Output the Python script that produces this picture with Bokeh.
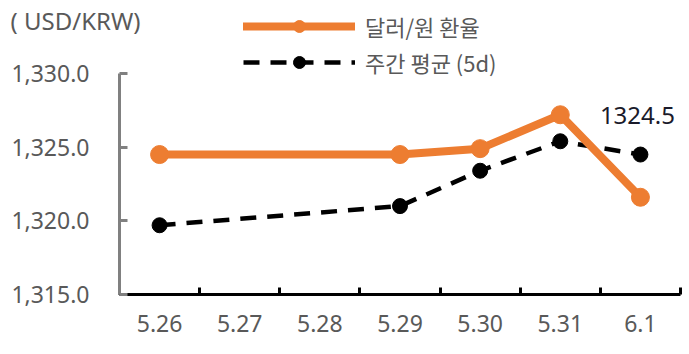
from bokeh.plotting import figure
from bokeh.models import (Range1d, LinearAxis, FixedTicker, NumeralTickFormatter,
                          Legend, LegendItem)
from bokeh.core.properties import value
from bokeh.embed import file_html
from bokeh.resources import INLINE

categories = ["5.26", "5.27", "5.28", "5.29", "5.30", "5.31", "6.1"]
obs_dates = ["5.26", "5.29", "5.30", "5.31", "6.1"]
usdkrw = [1324.5, 1324.5, 1324.9, 1327.2, 1321.6]
weekly_avg = [1319.7, 1321.0, 1323.4, 1325.4, 1324.5]
y_ticks = [1315, 1320, 1325, 1330]
unit_label = "( USD/KRW)"
series_names = ["달러/원 환율", "주간 평균 (5d)"]

ORANGE = "#ED7D31"
GREY = "#595959"
FONT = "Noto Sans"

# categorical positions: centre of each category slot
xpos = [categories.index(d) + 0.5 for d in obs_dates]

p = figure(width=689, height=354, x_range=Range1d(0, len(categories)),
           y_range=Range1d(1315, 1334.955),
           output_backend="svg", toolbar_location=None,
           x_axis_location=None, y_axis_location=None,
           min_border_left=119, min_border_right=9,
           min_border_top=0, min_border_bottom=60)
p.outline_line_color = None
p.grid.visible = False
p.background_fill_color = "white"
p.border_fill_color = "white"

# y axis
yax = LinearAxis(ticker=FixedTicker(ticks=y_ticks),
                 formatter=NumeralTickFormatter(format="0,0.0"),
                 bounds=(y_ticks[0], y_ticks[-1]))
yax.axis_line_color = "#808080"
yax.axis_line_width = 3
yax.major_tick_line_color = "#808080"
yax.major_tick_line_width = 3
yax.major_tick_in = 8
yax.major_tick_out = 0
yax.minor_tick_line_color = None
yax.major_label_standoff = 30
yax.major_label_text_font = FONT
yax.major_label_text_font_size = "23px"
yax.major_label_text_color = GREY
p.add_layout(yax, "left")

# unit caption: single label of an invisible outer left axis, pulled right
unit_pos = 1333.6
uax = LinearAxis(ticker=FixedTicker(ticks=[unit_pos], minor_ticks=[]),
                 bounds=(unit_pos - 0.3, unit_pos + 0.3),
                 major_label_overrides={unit_pos: unit_label})
uax.axis_line_color = None
uax.major_tick_line_color = None
uax.minor_tick_line_color = None
uax.major_tick_in = 0
uax.major_tick_out = 0
uax.major_label_standoff = -132
uax.major_label_text_font = FONT
uax.major_label_text_font_size = "24px"
uax.major_label_text_color = GREY
p.add_layout(uax, "left")

# x axis: labels at category centres, ticks at category boundaries
centres = [i + 0.5 for i in range(len(categories))]
bounds = list(range(len(categories) + 1))
xax = LinearAxis(ticker=FixedTicker(ticks=centres, minor_ticks=bounds),
                 major_label_overrides={c: lab for c, lab in zip(centres, categories)})
xax.axis_line_color = "black"
xax.axis_line_width = 3
xax.major_tick_line_color = None
xax.minor_tick_line_color = "black"
xax.minor_tick_line_width = 3
xax.minor_tick_in = 7
xax.minor_tick_out = 0
xax.major_label_standoff = 14
xax.major_label_text_font = FONT
xax.major_label_text_font_size = "23px"
xax.major_label_text_color = GREY
p.add_layout(xax, "below")

# series
avg_line = p.line(xpos, weekly_avg, line_color="black", line_width=4.5,
                  line_dash="16 11")
avg_pts = p.scatter(xpos, weekly_avg, size=15, fill_color="black",
                    line_color="black")
fx_line = p.line(xpos, usdkrw, line_color=ORANGE, line_width=8,
                 line_join="round", line_cap="round")
fx_pts = p.scatter(xpos, usdkrw, size=18, fill_color=ORANGE,
                   line_color=ORANGE)

p.text(x=[xpos[-1]], y=[weekly_avg[-1]], text=[f"{weekly_avg[-1]}"],
       x_offset=-3, y_offset=-39, text_align="center",
       text_baseline="alphabetic", text_font=value(FONT),
       text_font_size="24px", text_color="#1a1a2a")

legend = Legend(items=[LegendItem(label=series_names[0], renderers=[fx_line, fx_pts]),
                       LegendItem(label=series_names[1], renderers=[avg_line, avg_pts])],
                location=(124, 216))
legend.glyph_width = 112
legend.glyph_height = 30
legend.label_standoff = 10
legend.spacing = 4
legend.padding = 0
legend.margin = 0
legend.border_line_color = None
legend.background_fill_alpha = 0
legend.label_text_font = "Noto Sans CJK KR"
legend.label_text_font_size = "22px"
legend.label_text_color = GREY
p.add_layout(legend, "center")

open("out.html", "w").write(file_html(p, INLINE))
